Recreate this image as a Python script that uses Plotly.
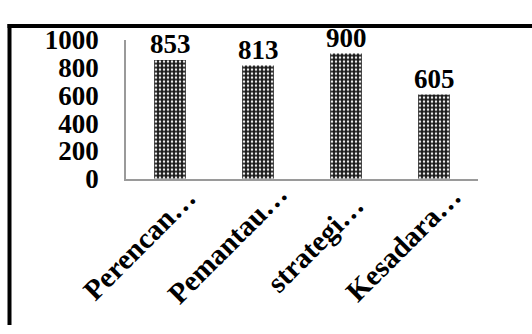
import plotly.graph_objects as go

categories = ["Perencan…", "Pemantau…", "strategi…", "Kesadara…"]
values = [853, 813, 900, 605]
y_ticks = [0, 200, 400, 600, 800, 1000]

W, H = 532, 334
FONT = "Liberation Serif, Times New Roman, serif"

fig = go.Figure()
fig.add_trace(go.Bar(
    x=list(range(len(categories))),
    y=values,
    width=0.36,
    cliponaxis=False,
    marker=dict(
        color="#1a1a1a",
        line=dict(width=0),
        pattern=dict(shape=".", fgcolor="#eeeeee", bgcolor="#1a1a1a",
                     size=4, solidity=0.3, fillmode="replace"),
    ),
    showlegend=False,
))

# value labels above bars
for i, v in enumerate(values):
    fig.add_annotation(
        x=i, y=v, xref="x", yref="y", text=str(v), showarrow=False,
        xanchor="center", yanchor="bottom", yshift=-1,
        font=dict(family=FONT, size=27, color="black", weight="bold"),
    )

# rotated category labels
for i, c in enumerate(categories):
    fig.add_annotation(
        x=i, y=0, xref="x", yref="y", text=c, showarrow=False,
        textangle=-45, xanchor="center", yanchor="middle",
        xshift=-31, yshift=-65,
        font=dict(family=FONT, size=29, color="black", weight="bold"),
    )

# partial frame: top and left edges
fig.add_shape(type="line", xref="paper", yref="paper",
              x0=7.5 / W, x1=1.02, y0=1 - 12 / H, y1=1 - 12 / H,
              line=dict(color="black", width=4))
fig.add_shape(type="line", xref="paper", yref="paper",
              x0=9.5 / W, x1=9.5 / W, y0=-0.02, y1=1 - 10 / H,
              line=dict(color="black", width=4))

fig.update_layout(
    width=W, height=H,
    margin=dict(l=0, r=0, t=0, b=0),
    paper_bgcolor="white", plot_bgcolor="white",
    xaxis=dict(domain=[126 / W, 478 / W], range=[-0.5, 3.5],
               showticklabels=False, showgrid=False, zeroline=False,
               showline=True, linecolor="#9a9a9a", linewidth=2, ticks=""),
    yaxis=dict(domain=[1 - 180 / H, 1 - 27 / H], range=[0, 1000],
               tickvals=y_ticks, ticktext=[str(t) for t in y_ticks],
               showgrid=False, zeroline=False,
               showline=True, linecolor="#9a9a9a", linewidth=1.5, ticks="",
               ticklabelstandoff=20,
               tickfont=dict(family=FONT, size=27, color="black", weight="bold")),
)

fig.write_html("out.html")
